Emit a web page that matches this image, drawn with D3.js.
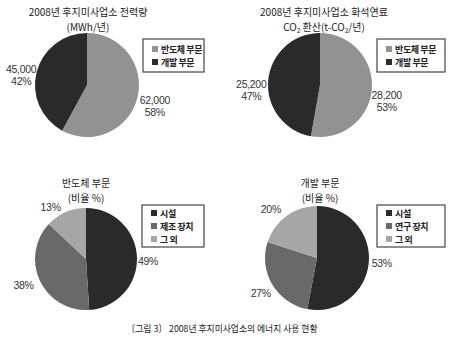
<!DOCTYPE html>
<html>
<head>
<meta charset="utf-8">
<script src="https://cdn.jsdelivr.net/npm/d3@7"></script>
<style>
  body { margin: 0; background: #fff; }
  svg { font-family: "Noto Sans CJK KR", "Noto Sans", sans-serif; }
  .title { font-size: 10px; fill: #222; }
  .label { font-family: "Liberation Sans", Arial, sans-serif; font-size: 10.5px; fill: #333; letter-spacing: -0.3px; }
  .legend-text { font-size: 9px; font-weight: bold; fill: #222; letter-spacing: -0.4px; }
  .caption { font-size: 9.5px; fill: #222; }
</style>
</head>
<body>
<div id="chart"></div>
<script>
// chart 1: electricity (MWh/year)
const powerCats = ["반도체 부문", "개발 부문"];
const powerValues = [62000, 45000];
const powerPct = [58, 42];

// chart 2: fossil fuel CO2 (t-CO2/year)
const co2Cats = ["반도체 부문", "개발 부문"];
const co2Values = [28200, 25200];
const co2Pct = [53, 47];

// chart 3: semiconductor division (%)
const semiCats = ["시설", "제조 장치", "그 외"];
const semiPct = [49, 38, 13];

// chart 4: development division (%)
const devCats = ["시설", "연구 장치", "그 외"];
const devPct = [53, 27, 20];

const width = 450;
const height = 351;

const svg = d3.select("#chart")
  .append("svg")
  .attr("width", width)
  .attr("height", height);

const light = "#929292";
const dark = "#2a2a2a";
const mid = "#696969";
const light2 = "#a6a6a6";

const pie = d3.pie().sort(null).value(d => d);

function drawPie(opts) {
  const g = svg.append("g")
    .attr("transform", `translate(${opts.cx},${opts.cy})`);
  const arc = d3.arc().innerRadius(0).outerRadius(opts.r);
  const color = d3.scaleOrdinal().domain(opts.cats).range(opts.colors);
  const arcs = pie(opts.values);

  g.selectAll("path")
    .data(arcs)
    .join("path")
    .attr("d", arc)
    .attr("fill", (d, i) => color(opts.cats[i]));

  // labels placed outside each slice, nudged a bit
  const lr = opts.r + 18;
  const labelArc = d3.arc().innerRadius(lr).outerRadius(lr);
  g.selectAll(".lbl")
    .data(arcs)
    .join("text")
    .attr("class", "label")
    .attr("text-anchor", "middle")
    .each(function(d, i) {
      const [x, y] = labelArc.centroid(d);
      const off = opts.labelOffsets[i];
      const t = d3.select(this);
      const lines = opts.labels(i);
      lines.forEach((line, k) => {
        t.append("tspan")
          .attr("x", x + off[0])
          .attr("y", y + off[1] + k * 12 - (lines.length - 1) * 6 + 4)
          .text(line);
      });
    });

  // legend
  const lg = svg.append("g")
    .attr("transform", `translate(${opts.lx},${opts.ly})`);
  lg.append("rect")
    .attr("width", opts.lw)
    .attr("height", opts.lh)
    .attr("fill", "#fff")
    .attr("stroke", "#444")
    .attr("stroke-width", 1.2);
  const top = (opts.lh - (opts.cats.length - 1) * 13) / 2;
  const item = lg.selectAll(".item")
    .data(opts.cats)
    .join("g")
    .attr("transform", (d, i) => `translate(9,${top + i * 13})`);
  item.append("rect")
    .attr("width", 6)
    .attr("height", 6)
    .attr("y", -3)
    .attr("fill", d => color(d));
  item.append("text")
    .attr("class", "legend-text")
    .attr("x", 9)
    .attr("y", 3.5)
    .text(d => d);
}

function title(x, y, text) {
  return svg.append("text")
    .attr("class", "title")
    .attr("x", x)
    .attr("y", y)
    .attr("text-anchor", "middle")
    .text(text);
}

const fmt = d3.format(",");

// chart 1
title(88, 16, "2008년 후지미사업소 전력량");
title(88, 31, "(MWh/년)");
drawPie({
  cx: 87, cy: 85, r: 52,
  cats: powerCats, values: powerValues, colors: [light, dark],
  labels: i => [fmt(powerValues[i]), powerPct[i] + "%"],
  labelOffsets: [[0, 4], [2, 7]],
  lx: 143, ly: 39, lw: 61, lh: 33
});

// chart 2
title(324, 16, "2008년 후지미사업소 화석연료");
const t2 = svg.append("text")
  .attr("class", "title")
  .attr("x", 324)
  .attr("y", 31)
  .attr("text-anchor", "middle");
t2.append("tspan").text("CO");
t2.append("tspan").attr("font-size", "6.5px").attr("dy", 2).text("2");
t2.append("tspan").attr("dy", -2).text(" 환산(t-CO");
t2.append("tspan").attr("font-size", "6.5px").attr("dy", 2).text("2");
t2.append("tspan").attr("dy", -2).text("/년)");
drawPie({
  cx: 320, cy: 85, r: 52,
  cats: co2Cats, values: co2Values, colors: [light, dark],
  labels: i => [fmt(co2Values[i]), co2Pct[i] + "%"],
  labelOffsets: [[-3, 10], [1, 11]],
  lx: 377, ly: 39, lw: 68, lh: 33
});

// chart 3
title(86, 187, "반도체 부문");
title(86, 202, "(비율 %)");
drawPie({
  cx: 86, cy: 259, r: 51,
  cats: semiCats, values: semiPct, colors: [dark, mid, light2],
  labels: i => [semiPct[i] + "%"],
  labelOffsets: [[-7, 4], [0, -3], [-8, 11]],
  lx: 142, ly: 205, lw: 62, lh: 42
});

// chart 4
title(320, 187, "개발 부문");
title(320, 202, "(비율 %)");
drawPie({
  cx: 317, cy: 258, r: 52,
  cats: devCats, values: devPct, colors: [dark, mid, light2],
  labels: i => [devPct[i] + "%"],
  labelOffsets: [[-5, -2], [4, -1], [-5, 8]],
  lx: 377, ly: 205, lw: 68, lh: 42
});

svg.append("text")
  .attr("class", "caption")
  .attr("x", 222)
  .attr("y", 332)
  .attr("text-anchor", "middle")
  .attr("textLength", 191)
  .attr("lengthAdjust", "spacingAndGlyphs")
  .text("〔그림 3〕 2008년 후지미사업소의 에너지 사용 현황");
</script>
</body>
</html>
